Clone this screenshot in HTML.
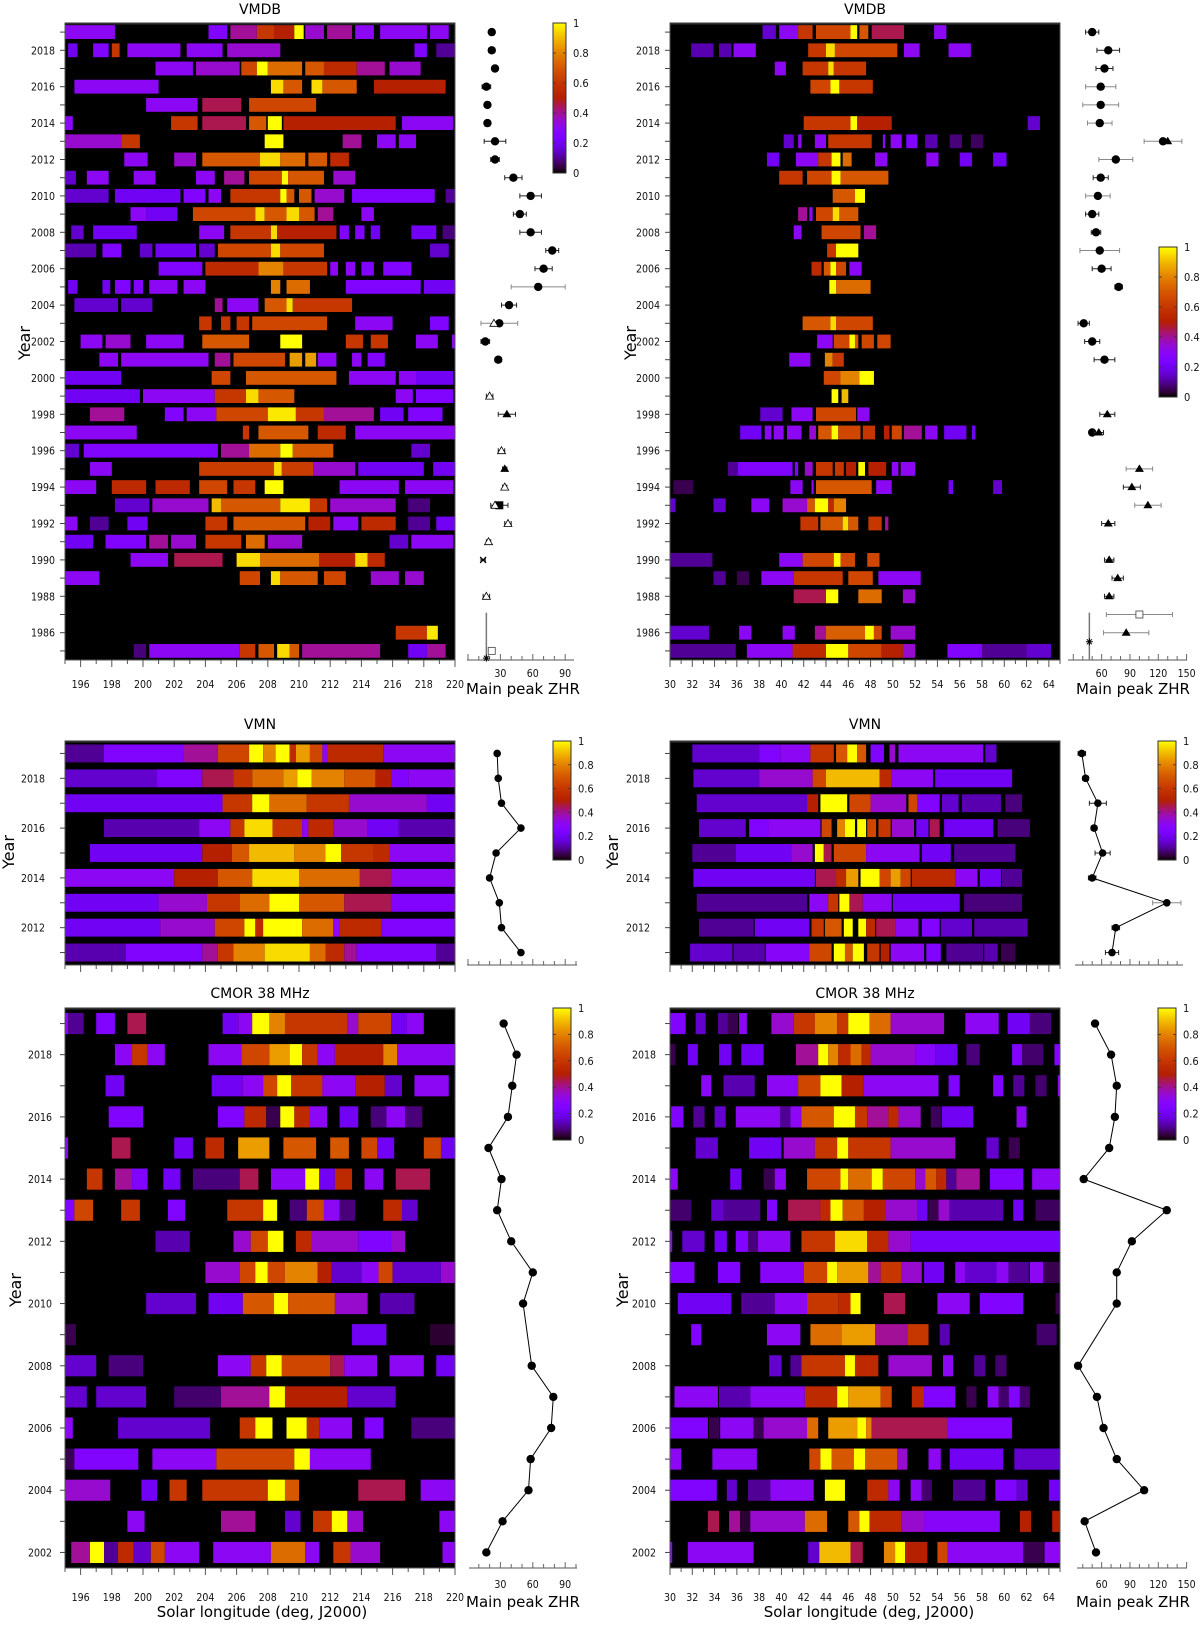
<!DOCTYPE html>
<html><head><meta charset="utf-8">
<style>
html,body{margin:0;padding:0;background:#fff;}
svg{display:block;font-family:"DejaVu Sans","Liberation Sans",sans-serif;}
.tk{font-size:10.5px;fill:#111;font-stretch:condensed;}
.ttl{font-size:14px;fill:#000;}
.lab{font-size:15px;fill:#000;}
</style></head>
<body>
<svg id="fig" width="1200" height="1627" viewBox="0 0 1200 1627" xmlns="http://www.w3.org/2000/svg"></svg>
<script>
// ===================== DATA =====================
// Top-left VMDB (solar longitude 195-220)
const tlYears = [2019,2018,2017,2016,2015,2014,2013,2012,2011,2010,2009,2008,2007,2006,2005,2004,2003,2002,2001,2000,1999,1998,1997,1996,1995,1994,1993,1992,1991,1990,1989,1988,1987,1986,1985];
const tlSegs = [
[195,198.2,.3, 204.2,205.4,.25, 205.6,207.3,.4, 207.3,208.4,.6, 208.4,209.7,.5, 209.7,210.3,1, 210.4,211.6,.35, 211.8,213.4,.4, 213.6,214.8,.3, 215.2,218.2,.3, 218.4,219.6,.3],
[195.2,195.8,.2, 196.8,197.8,.25, 198,198.5,.6, 199,202.4,.3, 202.8,205.1,.3, 205.4,208.8,.35, 217.4,218.2,.25, 218.8,220,.1],
[200.8,203.2,.3, 203.4,206.2,.35, 206.3,207.3,.65, 207.3,208,1, 208,210.2,.75, 210.4,211.6,.7, 211.6,213.7,.55, 213.7,215.5,.4, 215.8,217.8,.35],
[195.6,201,.3, 208.2,209,.95, 209,210.2,.7, 210.8,211.5,.95, 211.5,213.7,.7, 214.8,219.4,.5],
[200.2,203.5,.3, 203.8,206.3,.45, 206.8,211.1,.65],
[195,195.5,.3, 201.8,203.5,.6, 203.8,206.6,.45, 206.8,207.9,.7, 208,208.9,1, 209,216.2,.5, 216.6,219.9,.3],
[195,198.6,.35, 198.6,199.8,.6, 207.8,209,1, 212.8,214,.4, 215,216.2,.3, 216.4,217.5,.3],
[198.8,200.3,.3, 202,203.4,.35, 203.8,207.5,.7, 207.5,208.8,.95, 208.8,210.4,.75, 210.6,211.8,.7, 212,213.2,.55],
[195,195.7,.15, 196.4,197.8,.3, 199.4,200.8,.3, 203.4,204.6,.3, 205.2,206.5,.4, 206.8,208.9,.65, 208.9,209.3,1, 209.3,211.6,.7, 212.2,213.6,.35],
[195,197.8,.15, 198.2,202.4,.2, 202.6,204,.25, 204.2,205,.3, 205.6,208.8,.6, 208.8,209.2,1, 209.2,209.7,.7, 210,210.8,.7, 211,212.9,.35, 213.4,218.7,.25, 219.4,220,.1],
[199.2,200.2,.3, 200.2,202.2,.2, 203.2,207.2,.65, 207.2,207.8,.95, 207.8,209.2,.7, 209.2,210,.95, 210,211,.7, 211.2,212.2,.4, 214,214.8,.3],
[195.4,196.2,.15, 196.8,199.6,.2, 203.6,205.2,.3, 205.6,208.2,.6, 208.2,208.6,.95, 208.6,212.4,.5, 212.6,213.2,.25, 213.6,214.2,.25, 214.6,215.2,.2, 217.2,218.8,.2, 219.2,220,.08],
[195,197,.12, 197.4,198.6,.25, 199.8,200.6,.15, 200.8,203.4,.2, 203.6,204.6,.15, 204.8,208.2,.65, 208.2,208.8,.95, 208.8,211.6,.65, 218.4,219.6,.15],
[201,203.8,.25, 204,207.4,.55, 207.4,209,.8, 209,211.8,.6, 212,212.5,.3, 213,213.6,.3, 214,214.8,.25, 215.4,217.2,.25],
[195.2,195.8,.2, 197.4,197.9,.2, 198.2,199.2,.25, 199.4,200,.25, 200.4,202.2,.3, 202.6,204,.3, 208.2,208.8,.8, 209.2,210.7,.75, 213,217.8,.25, 218,220,.2],
[195.6,198.4,.15, 198.6,200.6,.15, 204.6,205.1,.4, 205.4,207.4,.3, 207.8,209.2,.7, 209.2,209.6,.95, 209.6,213.4,.6],
[203.6,204.4,.6, 205,205.6,.6, 206,206.8,.6, 207,211.8,.65, 213.6,216,.3, 218.4,219.6,.25],
[196,197.4,.3, 197.6,199.2,.35, 200.2,202.6,.3, 203.8,206.8,.7, 208.8,210.2,1, 213,214.1,.6, 214.6,215.7,.6, 217.5,218.9,.3, 219.8,220,.3],
[197.2,198.4,.3, 198.6,204.2,.3, 204.6,205.6,.4, 205.8,209.1,.65, 209.4,210.2,.85, 210.4,211.1,.85, 211.2,212.4,.3, 213.4,214,.3, 214.4,215.5,.25],
[195,198.6,.2, 204.4,205.6,.65, 206.6,212.4,.7, 213.2,216.2,.3, 216.4,217.5,.3, 217.5,219.9,.2],
[195,199.8,.2, 200,204.6,.3, 204.6,206.6,.6, 206.6,207.4,.95, 207.4,209.7,.7, 216.2,217.3,.3, 217.5,219.9,.25],
[196.6,198.8,.4, 201.4,202.6,.25, 202.8,204.7,.3, 204.7,208,.65, 208,209.8,.97, 209.8,211.6,.6, 211.6,214.8,.4, 215.2,216.7,.2, 217,219.2,.25],
[195,199.6,.3, 206.4,206.8,.6, 207.4,210.6,.7, 211.2,213,.55, 213.6,220,.3],
[195,195.9,.15, 196.2,204.8,.25, 205,206.8,.4, 206.8,208.8,.75, 208.8,209.6,1, 209.6,212.2,.7, 217.2,218.4,.15],
[196.6,198,.3, 203.6,208.4,.62, 208.4,208.9,.95, 208.9,210.9,.62, 210.9,213.6,.35, 213.8,218,.2, 218.6,220,.2],
[195,197,.3, 198,200.2,.55, 200.8,203,.55, 203.6,205.4,.65, 205.8,207.2,.6, 207.8,209,1, 212.6,216.4,.3, 216.8,219.9,.3],
[198.2,200.4,.15, 200.6,204.2,.35, 204.4,205,.9, 205,208.8,.7, 208.8,210.7,.97, 210.7,211.8,.6, 212,216.2,.35, 217,218.4,.08],
[195,195.8,.3, 196.6,197.8,.1, 199,200.3,.2, 204,205.4,.6, 205.8,210.4,.7, 210.6,212,.5, 212.2,213.8,.3, 214,216.2,.55, 217,218.4,.1, 218.8,220,.2],
[195,196.8,.2, 197.6,200.2,.25, 200.4,201.6,.4, 201.8,203.4,.35, 204,206.3,.6, 206.6,207.8,.75, 208,210.2,.35, 215.8,217,.15, 217.2,219.9,.3],
[199.2,201.6,.3, 202,205.1,.45, 206,207.5,.95, 207.5,211.3,.75, 211.3,213.6,.5, 213.6,214.4,.95, 214.4,215.5,.55],
[195,197.2,.3, 206.2,207.5,.65, 208.2,208.8,.95, 208.8,211.2,.7, 211.6,213,.65, 214.6,216.4,.35, 216.8,218,.35],
[],
[],
[216.2,218.2,.6, 218.2,218.9,.97],
[199.4,200.2,.08, 200.4,206.2,.3, 206.2,207.2,.6, 207.4,208.4,.7, 208.6,209.4,.95, 209.4,210,.7, 210.2,215.2,.4, 217,218.2,.2, 218.2,219.4,.4]
];
const tlZhrYears = [2019,2018,2017,2016,2015,2014,2013,2012,2011,2010,2009,2008,2007,2006,2005,2004,2003,2003,2002,2001,1999,1998,1996,1995,1994,1993,1993,1992,1991,1990,1988,1985,1984.6];
const tlZhr      = [22,22,25,17,18,18,25,25,42,58,48,58,78,70,65,38,29,24,16,28,20,36,31,34,34,29,25,37,19,14,17,22,17];
const tlZhrErr   = [2,3,2,4,2,1,10,4,8,10,6,10,6,8,25,7,17,0,4,3,3,8,3,2,2,8,0,3,2,2,3,0,0];
const tlZhrType  = ['c','c','c','c','c','c','c','c','c','c','c','c','c','c','c','c','c','o','c','c','o','t','o','t','o','s','o','o','o','x','o','q','*'];

// Top-right VMDB (solar longitude 30-65)
const trYears = tlYears;
const trSegs = [
[38.3,39.5,.15, 39.8,41.5,.3, 41.5,42.8,.6, 43.1,46.2,.65, 46.2,46.8,1, 47,47.8,.7, 48.1,51,.45, 53.7,54.8,.3],
[31.9,33.9,.12, 34.4,35.5,.12, 35.7,37.7,.3, 42.4,44,.6, 44,44.8,.95, 44.8,50.4,.65, 51,52.4,.3, 55,57,.3],
[39.4,40.4,.3, 41.9,44.2,.6, 44.2,44.7,.95, 44.7,47.6,.6],
[42.6,44.4,.65, 44.4,45.2,1, 45.2,48.2,.6],
[],
[42,46.2,.6, 46.2,46.8,1, 46.8,49.9,.5, 62.1,63.2,.15],
[40.2,41.1,.15, 41.5,41.8,.3, 43,44,.3, 44.2,48.1,.6, 49.1,49.3,.3, 49.8,50.8,.3, 51.2,52.2,.25, 52.9,54,.12, 55.1,56.2,.08, 57,58.1,.06],
[38.7,39.8,.2, 41.3,43.3,.3, 43.3,44.5,.6, 44.5,45.3,1, 45.5,46.3,.75, 48.4,49.5,.3, 53,54.1,.3, 56,57.1,.2, 59,60.2,.2],
[39.8,41.9,.6, 42.3,44.5,.65, 44.5,45.3,1, 45.3,49.6,.7],
[44.6,46.6,.7, 46.6,47.5,1],
[41.5,42.3,.4, 42.5,42.8,.3, 43.1,44.6,.65, 44.6,45.2,.95, 45.2,46.9,.7],
[41.1,41.8,.3, 43.6,47.1,.65, 47.4,48.5,.4],
[44.1,44.9,.6, 44.9,46.9,1],
[42.7,43.6,.55, 43.8,44.4,.7, 44.4,44.9,1, 44.9,45.8,.65, 46.1,47.2,.3],
[44.3,44.9,1, 44.9,48,.75],
[],
[41.9,44.4,.7, 44.4,44.9,.95, 44.9,48.2,.65],
[43.2,44.6,.3, 44.7,46.1,.65, 46.1,46.6,1, 46.6,46.9,.7, 47.2,48.3,.65, 48.6,49.8,.65],
[40.7,42.6,.3, 43.9,44.6,.8, 44.6,45.6,.6],
[43.8,45.3,.65, 45.3,47,.8, 47,48.3,1],
[44.5,45.1,1, 45.4,46,.9],
[38.1,40.1,.15, 40.9,42.8,.3, 43.1,46.7,.65, 46.8,47.9,.3],
[36.3,38.2,.2, 38.5,39.1,.3, 39.3,40.2,.3, 40.5,41.8,.3, 42.5,43.1,.35, 43.3,44.5,.7, 44.5,45.1,1, 45.1,47.1,.65, 47.3,48.4,.6, 49.2,49.7,.5, 49.9,50.8,.65, 51,52.6,.4, 52.9,54,.3, 54.6,56.6,.2, 57.1,57.4,.2],
[],
[35.2,36.1,.1, 36.1,41,.25, 41.2,41.5,.25, 42.1,42.8,.35, 43.1,44.6,.6, 44.8,45.6,.6, 45.8,46.7,.5, 46.9,47.5,1, 47.8,49.4,.5, 49.9,50.5,.3, 50.7,52,.3],
[30.3,32.1,.05, 40.8,41.9,.3, 42.7,42.9,.3, 43.1,48.1,.7, 48.5,49.9,.3, 55,55.4,.2, 59,59.8,.15],
[30,30.5,.15, 33.9,35,.15, 37.3,38.9,.3, 40.1,42.3,.35, 42.3,43,.7, 43,44.2,1, 44.2,44.7,.55, 44.7,45.8,.8],
[41.7,43.3,.6, 43.5,45.5,.7, 45.5,46,.95, 46,46.9,.7, 47.8,49,.6, 49.3,49.6,.4],
[],
[30,33.8,.1, 39.8,41.9,.3, 41.9,44.7,.65, 44.7,45.3,1, 45.3,46.6,.65, 47.7,48.8,.65],
[33.9,35,.1, 36,37.1,.05, 38.2,41.1,.3, 41.1,45.5,.6, 46,48.2,.65, 48.7,52.5,.3],
[41.1,44,.45, 44,45.1,1, 46.9,49,.75, 50.9,52,.35],
[],
[30,33.5,.15, 36.2,37.3,.3, 40.1,41.2,.3, 43,44,.4, 44,47.5,.72, 47.5,48.3,1, 48.3,49,.65, 49.8,52,.35],
[30,35.9,.1, 36.9,41,.3, 41,44,.55, 44,46,1, 46,49,.65, 49,50.9,.5, 50.9,52,.35, 54.9,58,.25, 58,62,.1, 62,64.2,.15]
];
const trZhrYears = [2019,2018,2017,2016,2015,2014,2013,2013,2012,2011,2010,2009,2008,2007,2006,2005,2003,2002,2001,1998,1997,1997,1995,1994,1993,1992,1990,1989,1988,1987,1986,1985.5];
const trZhr      = [50,67,63,59,59,58,125,130,75,59,56,50,54,58,60,78,41,50,63,66,50,57,100,92,109,67,68,77,68,100,86,47];
const trZhrErr   = [7,12,9,16,19,13,20,0,18,8,13,7,5,21,10,4,6,8,11,8,3,5,14,9,14,7,5,6,5,35,24,0];
const trZhrType  = ['c','c','c','c','c','c','c','t','c','c','c','c','c','c','c','c','c','c','c','t','c','t','t','t','t','t','t','t','t','q','t','*'];

// Middle-left VMN (195-220)
const mlYears = [2019,2018,2017,2016,2015,2014,2013,2012,2011];
const mlSegs = [
[195,197.5,.1, 197.5,202.6,.25, 202.6,204.8,.4, 204.8,206.8,.65, 206.8,207.7,1, 207.7,208.5,.8, 208.5,209.4,1, 209.4,209.8,.55, 209.8,210.7,.85, 210.7,211.5,.65, 211.5,211.8,.3, 211.8,215.4,.55, 215.4,220,.3],
[195,200.9,.15, 200.9,203.8,.25, 203.8,205.8,.45, 205.8,207,.6, 207,209,.75, 209,209.9,.85, 209.9,210.8,1, 210.8,212.9,.8, 212.9,214.9,.7, 214.9,215.9,.5, 215.9,217,.25, 217,220,.3],
[195,205.1,.2, 205.1,207,.6, 207,208.1,1, 208.1,210.5,.75, 210.5,213.2,.6, 213.2,218.2,.35, 218.2,220,.2],
[197.5,203.6,.12, 203.6,205.6,.3, 205.6,206.5,.6, 206.5,208.3,.95, 208.3,210.2,.6, 210.2,210.6,.3, 210.6,212.2,.55, 212.2,214.4,.35, 214.4,216.4,.2, 216.4,220,.12],
[196.6,203.8,.2, 203.8,205.7,.5, 205.7,206.8,.7, 206.8,209.7,.9, 209.7,211.7,.8, 211.7,212.7,1, 212.7,214.8,.6, 214.8,215.8,.55, 215.8,220,.3],
[195,202,.3, 202,204.8,.5, 204.8,207,.7, 207,210,.95, 210,213.9,.75, 213.9,215.9,.45, 215.9,220,.3],
[195,201,.2, 201,204.1,.35, 204.1,206.2,.6, 206.2,208.1,.75, 208.1,210,1, 210,212.9,.7, 212.9,215.9,.45, 215.9,220,.25],
[195,201.1,.2, 201.1,204.6,.35, 204.6,206.5,.65, 206.5,207.2,1, 207.2,207.7,.55, 207.7,210.2,1, 210.2,212.2,.75, 212.2,212.6,.3, 212.6,215.3,.55, 215.3,220,.25],
[195,198.9,.12, 198.9,203.8,.25, 203.8,204.8,.4, 204.8,205.8,.6, 205.8,207.8,.8, 207.8,210.7,.95, 210.7,211.7,.75, 211.7,212.9,.55, 212.9,213.7,.4, 213.7,218.8,.25, 218.8,220,.1]
];
const mlZhr = [27,28,31,49,26,20,29,31,49];

// Middle-right VMN (30-65)
const mrYears = mlYears;
const mrSegs = [
[32,38,.15, 38,39.9,.25, 39.9,42.6,.3, 42.6,44.7,.6, 44.9,45.9,.7, 45.9,46.8,1, 46.8,47.6,.7, 48,49.2,.25, 49.7,50.2,.35, 50.5,58.1,.3, 58.3,59.3,.15],
[32.1,38,.15, 38,42.8,.35, 42.8,44,.65, 44,48.8,.9, 48.8,49.9,.55, 49.9,53.6,.3, 53.8,60.7,.2],
[32.4,42.3,.15, 42.3,43.3,.5, 43.5,45.9,1, 46.1,48,.65, 48,51.2,.35, 51.4,52.2,.65, 52.2,54.2,.25, 54.4,55.9,.15, 56.2,59.7,.12, 60.1,61.6,.08],
[32.6,36.8,.15, 37.1,38.8,.25, 38.8,43.5,.3, 43.6,44.5,.65, 45,45.7,.8, 45.7,46.6,1, 46.8,47.6,1, 47.7,48.5,.65, 48.7,49.8,.6, 49.9,51.9,.35, 52.1,53.2,.2, 53.3,54.2,.45, 54.6,59,.2, 59.4,62.3,.08],
[32,35.9,.1, 35.9,40.9,.2, 40.9,42.8,.35, 43,43.8,1, 43.8,44.5,.45, 44.7,47.6,.65, 47.6,52.4,.3, 52.6,55.2,.2, 55.5,61,.1],
[32.1,43,.2, 43.1,44.9,.45, 44.9,45.8,.55, 45.8,46.9,.85, 47.1,48.8,1, 48.8,49.8,.65, 49.8,50.7,.85, 50.7,51.6,.65, 51.7,55.6,.55, 55.6,57.6,.3, 57.8,59.7,.2, 59.8,61.6,.1],
[32.4,42.3,.1, 42.5,44.2,.3, 44.2,45.1,.6, 45.2,46.1,1, 46.1,47.3,.45, 47.3,49.9,.3, 50,56,.2, 56.4,61.6,.08],
[32.6,37.5,.1, 37.6,42.5,.2, 42.7,43.8,.6, 43.9,45.4,.7, 45.6,46.4,1, 46.9,47.6,1, 47.6,48.4,.55, 48.5,50.2,.45, 50.2,52.3,.3, 52.6,54.2,.25, 54.3,57.1,.15, 57.3,62.1,.12],
[31.8,35.6,.15, 35.7,38.5,.12, 38.6,42.5,.28, 42.5,44.5,.65, 44.7,45.7,1, 45.7,46.4,.7, 46.4,47.4,1, 47.7,48.8,.6, 48.9,49.7,.5, 49.8,52.8,.3, 53,54.3,.25, 54.8,58.1,.1, 58.2,59.4,.12, 59.7,61,.05]
];
const mrZhr = [39,43,56,52,61,50,129,75,71];
const mrZhrErr = [4,3,9,3,8,4,15,4,7];

// Bottom-left CMOR 38 MHz (195-220)
const blYears = [2019,2018,2017,2016,2015,2014,2013,2012,2011,2010,2009,2008,2007,2006,2005,2004,2003,2002];
const blSegs = [
[195,195.2,.3, 195.2,196.2,.1, 197,198.2,.25, 199,200.2,.45, 205.1,206.1,.2, 206.1,207,.3, 207,208.1,1, 208.1,209.1,.8, 209.1,213.1,.6, 213.1,213.8,.35, 213.8,215.9,.65, 215.9,216.9,.2, 216.9,218,.3],
[198.2,199.3,.3, 199.3,200.3,.6, 200.3,201.4,.3, 204.2,206.3,.3, 206.3,208.1,.65, 208.1,209.4,.85, 209.4,210.2,1, 210.2,211.2,.6, 211.2,212.3,.3, 212.3,215.4,.5, 215.4,216.3,.8, 216.3,220,.3],
[197.6,198.8,.2, 204.4,206.4,.2, 206.4,207.7,.3, 207.7,208.6,.65, 208.6,209.5,1, 209.5,211.5,.6, 211.5,213.6,.3, 213.6,215.5,.5, 215.5,216.6,.15, 217.4,219.6,.3],
[197.8,200,.25, 204.8,206.5,.25, 206.5,207.9,.55, 207.9,208.8,.05, 208.8,209.7,1, 209.7,210.7,.55, 210.7,211.8,.3, 212.6,213.8,.2, 214.6,215.6,.08, 215.6,216.8,.3, 216.8,217.9,.08],
[195,195.2,.3, 198,199.2,.45, 202,203.2,.2, 204,205.2,.55, 206.1,208.1,.85, 209,211.1,.7, 212,213.2,.7, 214,215,.65, 215,216.1,.2, 218,219.1,.65, 219.1,220,.2],
[196.4,197.4,.6, 198.2,199.3,.4, 199.3,200.3,.25, 201.3,202.4,.2, 203.2,206.2,.08, 206.2,207.4,.45, 208.2,210.4,.3, 210.4,211.3,1, 211.3,212.3,.2, 212.3,213.4,.55, 214.2,215.4,.3, 216.2,218.4,.45],
[195,195.6,.25, 195.6,196.8,.65, 198.6,199.8,.6, 201.6,202.7,.25, 205.4,207.7,.6, 207.7,208.6,1, 209.4,210.5,.08, 210.5,211.6,.65, 211.6,212.6,.3, 212.6,213.6,.08, 215.4,216.6,.55, 216.6,217.6,.15],
[200.8,203,.12, 205.8,206.9,.35, 206.9,208,.65, 208,209,1, 209.8,210.8,.55, 210.8,213.8,.35, 213.8,215.9,.25, 215.9,216.8,.35],
[204,206.2,.35, 206.2,207.2,.65, 207.2,208,1, 208,209.1,.65, 209.1,211.2,.8, 211.2,212.1,.5, 212.1,214,.15, 214,215.1,.3, 215.1,216,.65, 216,219.1,.15, 219.1,220,.35],
[200.2,203.4,.15, 204.2,206.4,.2, 206.4,208.4,.7, 208.4,209.3,1, 209.3,212.3,.7, 212.3,214.4,.35, 215.2,217.4,.12],
[195,195.7,.05, 213.4,215.6,.2, 218.4,220,.03],
[195,197,.15, 197.8,200,.08, 204.8,206.9,.3, 206.9,207.9,.6, 207.9,208.9,1, 208.9,212,.65, 212,212.9,.45, 212.9,215,.3, 215.8,218,.3, 218.8,220,.2],
[195,196.4,.15, 197,200.2,.15, 202,205,.07, 205,208.1,.4, 208.1,209.1,1, 209.1,213.1,.5, 213.1,216.2,.15],
[195,195.5,.3, 198.4,204.3,.15, 206.2,207.2,.6, 207.2,208.3,1, 209.2,210.5,1, 210.5,211.3,.55, 211.3,213.4,.3, 214.2,215.4,.25, 217.2,220,.08],
[195,195.6,.05, 195.6,199.7,.25, 200.6,204.7,.3, 204.7,209.7,.65, 209.7,210.7,1, 210.7,214.6,.3],
[195,197.9,.35, 199.9,200.9,.2, 201.7,202.8,.6, 203.8,208,.6, 208,209.1,1, 209.1,210,.7, 213.8,216.8,.45, 217.8,220,.3],
[199,200.1,.3, 205,207.2,.4, 209.1,210.1,.15, 210.9,212.1,.6, 212.1,213.1,1, 213.1,214.1,.35, 219,220,.3],
[195.4,196.6,.4, 196.6,197.5,1, 197.5,198.4,.1, 198.4,199.4,.55, 199.4,200.5,.15, 200.5,201.4,.65, 201.4,203.6,.3, 204.5,208.2,.3, 208.2,210.4,.75, 210.4,211.3,.3, 212.2,213.3,.6, 213.3,215.2,.35, 219.2,220,.3]
];
const blZhrYears = [2019,2018,2017,2016,2015,2014,2013,2012,2011,2010,2008,2007,2006,2005,2004,2003,2002];
const blZhr      = [33,45,41,37,19,31,27,40,60,51,59,79,77,58,56,32,17];

// Bottom-right CMOR 38 MHz (30-65)
const brYears = blYears;
const brSegs = [
[30,31.4,.25, 32.3,33.2,.15, 34.3,35.2,.1, 35.2,36.1,.05, 36.2,36.9,.3, 39.1,41.1,.35, 41.1,43,.6, 43,45,.8, 45,46,.6, 46,47.9,1, 47.9,49.8,.75, 49.8,54.6,.35, 56.5,59.5,.3, 60.3,62.3,.2, 62.3,64.2,.08],
[30,30.5,.05, 31.6,32.5,.2, 34.4,35.5,.2, 36.4,38.4,.2, 41.3,43.3,.4, 43.3,44.2,1, 44.2,45.1,.8, 45.1,46.2,.55, 46.2,47.2,.75, 47.2,48,.55, 48,52,.35, 52,53.8,.28, 53.8,55.8,.2, 56.6,57.8,.08, 60.7,61.6,.25, 61.6,63.5,.07, 64.5,65,.25],
[32.8,33.7,.3, 34.8,37.6,.12, 38.7,41.5,.3, 41.5,43.5,.65, 43.5,45.4,1, 45.4,47.4,.5, 47.4,54.1,.3, 55,56,.25, 59,59.9,.25, 60.8,61.8,.1, 62.8,63.8,.07, 64.8,65,.3],
[30.1,31.2,.25, 32.1,33.1,.1, 34,35,.15, 35.9,39.9,.3, 39.9,40.8,.1, 40.8,41.8,.3, 41.8,44.7,.7, 44.7,46.6,1, 46.6,47.7,.6, 47.7,49.6,.4, 49.6,50.5,.55, 50.5,52.5,.35, 53.4,54.3,.06, 54.4,57.2,.2, 61.1,62,.3],
[32.3,34.3,.15, 37.1,40,.2, 40.2,43,.35, 43,45,.6, 45,46,1, 46,49.8,.6, 49.8,55.6,.35, 58.4,59.5,.15, 60.4,61.4,.05],
[30,30.7,.3, 35.4,36.4,.2, 38.4,39.4,.05, 39.4,40.4,.3, 42.3,45.3,.65, 45.3,46,1, 46,48.1,.75, 48.1,49.1,1, 49.1,52,.65, 52,52.9,.35, 52.9,53.9,.7, 53.9,54.8,.55, 54.8,55.7,.1, 55.7,57.8,.4, 58.7,61.7,.25, 62.5,65,.3],
[30,31.9,.07, 33.7,34.8,.15, 34.8,38.1,.1, 38.7,39.6,.25, 40.6,43.5,.45, 43.5,44.4,.55, 44.4,45.5,1, 45.5,47.4,.7, 47.4,49.3,.5, 49.3,52.2,.35, 52.2,53.1,.2, 53.2,54.1,.05, 54.1,55.1,.35, 55.1,59.9,.12, 60.8,61.7,.2, 62.8,65,.06],
[30,30.2,.3, 31.1,33.1,.15, 34,35.1,.2, 35.9,37,.25, 37,37.9,.08, 37.9,40.8,.3, 41.8,44.8,.6, 44.8,47.7,.95, 47.7,49.6,.55, 49.6,51.6,.35, 51.6,65,.22],
[30,32.2,.25, 34.3,36.3,.25, 38.1,42,.28, 42,44.1,.65, 44.1,45,1, 45,47.8,.85, 47.8,48.9,.4, 48.9,50.8,.6, 50.8,52.6,.35, 52.8,54.6,.2, 55.6,56.5,.3, 56.5,59.3,.15, 59.3,60.4,.3, 60.4,62.2,.1, 62.3,63.5,.3, 63.5,65,.05],
[30.7,35.5,.2, 36.4,39.4,.1, 39.4,42.3,.3, 42.3,45.1,.6, 45.1,46.2,.55, 46.2,47.1,1, 49.2,51.1,.45, 54,56.9,.3, 57.8,61.7,.25, 64.6,65,.05],
[31.9,32.8,.25, 38.7,41.7,.3, 42.6,45.4,.75, 45.4,48.4,.85, 48.4,51.3,.4, 51.3,53.2,.6, 54.2,55.1,.12, 62.9,64.7,.07],
[38.9,40,.15, 40.8,41.8,.1, 41.8,45.7,.6, 45.7,46.6,1, 46.6,48.7,.55, 49.6,53.5,.35, 54.5,55.4,.3, 57.3,58.3,.1, 59.2,60.2,.07],
[30.4,34.3,.3, 34.4,37.2,.12, 37.2,42.1,.3, 42.1,45,.55, 45,46,1, 46,48.9,.85, 48.9,49.9,.65, 51.7,52.8,.55, 52.8,55.6,.25, 56.6,57.5,.05, 58.5,59.5,.3, 59.5,60.4,.07, 60.4,61.4,.25, 61.4,62.3,.07],
[30,33.4,.25, 33.5,34.4,.05, 34.5,37.5,.3, 37.5,38.4,.05, 38.4,42.3,.35, 42.3,43.3,.75, 44.2,46.8,.85, 46.8,47.6,1, 47.6,48.1,.8, 48.1,54.9,.45, 54.9,60.7,.25],
[30,31,.3, 33.8,37.8,.3, 42.5,43.5,.65, 43.5,44.5,1, 44.5,46.5,.7, 46.5,47.5,1, 47.5,50.4,.7, 50.4,51.3,.35, 53.2,54.3,.3, 55.1,59.9,.2, 60.9,65,.15],
[30,34.2,.25, 35.1,36,.15, 37,39,.1, 39,42.9,.3, 43.9,45.7,1, 47.7,49.6,.55, 49.6,50.6,.3, 51.6,52.6,.3, 52.6,53.5,.07, 55.4,58.3,.1, 59.2,61.1,.25, 61.1,62.1,.15, 64,65,.2],
[33.4,34.4,.45, 35.3,36.3,.4, 36.3,37.2,.03, 37.2,42.1,.35, 42.1,44.1,.75, 46,47,.7, 47,47.9,1, 47.9,50.8,.55, 50.8,52.8,.35, 52.8,59.6,.28, 61.4,62.4,.5, 64.3,65,.5],
[30,30.2,.3, 31.6,37.5,.3, 42.4,43.4,.15, 43.4,46.2,.9, 46.2,47.3,.45, 49.2,50.2,.8, 50.2,51.1,1, 51.1,53.1,.5, 54,54.9,.65, 54.9,61.7,.3, 61.7,63.5,.05, 63.6,65,.3]
];
const brZhrYears = blZhrYears;
const brZhr      = [53,70,76,74,68,41,129,92,76,76,35,55,62,76,105,42,54];

// Colorbar ticks
const cbTicks = [0,0.2,0.4,0.6,0.8,1];
const cbTickLabels = ['0','0.2','0.4','0.6','0.8','1'];

// ===================== RENDER =====================
const NS = 'http://www.w3.org/2000/svg';
const svg = document.getElementById('fig');
function mk(tag, attrs, parent) {
  const e = document.createElementNS(NS, tag);
  for (const k in attrs) e.setAttribute(k, attrs[k]);
  (parent || svg).appendChild(e);
  return e;
}
function cmap(v) {
  v = Math.max(0, Math.min(1, v));
  const r = Math.sqrt(v), g = v * v * v, b = Math.max(0, Math.sin(2 * Math.PI * v));
  return 'rgb(' + Math.round(r * 255) + ',' + Math.round(g * 255) + ',' + Math.round(b * 255) + ')';
}
// gradient
const defs = mk('defs', {});
const grad = mk('linearGradient', {id: 'cbgrad', x1: 0, y1: 1, x2: 0, y2: 0}, defs);
for (let i = 0; i <= 40; i++) {
  mk('stop', {offset: (i / 40), 'stop-color': cmap(i / 40)}, grad);
}

function text(x, y, s, cls, anchor, parent) {
  const t = mk('text', {x: x, y: y, class: cls, 'text-anchor': anchor || 'middle'}, parent);
  t.textContent = s;
  return t;
}

function drawHeat(L, years, segs, name) {
  const g = mk('g', {});
  
  
  const xs = lon => L.hx0 + (lon - L.lon0) / (L.lon1 - L.lon0) * (L.hx1 - L.hx0);
  const ys = yr => L.y0 + (L.yr0 - yr) / (L.yr0 - L.yr1) * (L.y1 - L.y0);
  const rowH = (L.y1 - L.y0) / (L.yr0 - L.yr1);
  const bg = mk('rect', {x: L.hx0, y: L.y0, width: L.hx1 - L.hx0, height: L.y1 - L.y0, fill: '#000'}, g);
  
  
  for (let r = 0; r < years.length; r++) {
    const row = segs[r];
    const yc = ys(years[r]);
    for (let k = 0; k + 2 < row.length; k += 3) {
      const x1 = xs(row[k]), x2 = xs(row[k + 1]);
      const c = mk('rect', {x: x1.toFixed(2), y: (yc - rowH * L.bh).toFixed(2), width: Math.max(0.5, x2 - x1).toFixed(2), height: (2 * rowH * L.bh).toFixed(2), fill: cmap(row[k + 2])}, g);
      
      
    }
  }
  // frame
  mk('rect', {x: L.hx0, y: L.y0, width: L.hx1 - L.hx0, height: L.y1 - L.y0, fill: 'none', stroke: '#555', 'stroke-width': 1}, g);
  mk('line', {x1: L.hx0, y1: L.y0 + 0.5, x2: L.hx1, y2: L.y0 + 0.5, stroke: '#333', 'stroke-width': 2}, g);
  // y ticks
  const yax = mk('g', {}, g);
  
  
  for (let yr = Math.ceil(L.yr1); yr <= L.yr0; yr++) {
    const y = ys(yr);
    mk('line', {x1: L.hx0 - 5, y1: y, x2: L.hx0, y2: y, stroke: '#444', 'stroke-width': 1}, yax);
    if (yr % 2 === 0) {
      const t = text(L.hx0 - L.ylo, y + 4, String(yr), 'tk', 'end', yax);
      
      
    }
  }
  // x ticks
  const xax = mk('g', {}, g);
  
  
  for (let lon = Math.ceil(L.lon0); lon <= L.lon1; lon++) {
    const x = xs(lon);
    const major = lon % 2 === 0;
    mk('line', {x1: x, y1: L.y1, x2: x, y2: L.y1 + (major ? 7 : 4), stroke: '#555', 'stroke-width': 1}, xax);
    if (major && L.xlabels && lon < L.lon1 + 0.01) {
      if (lon === 30 || lon > L.lon0 || true) {
        const t = text(x, L.xly, String(lon), 'tk', 'middle', xax);
        
        
      }
    }
  }
  // y title
  const yt = text(L.ytx, L.yty, 'Year', 'lab', 'middle', g);
  yt.setAttribute('transform', 'rotate(-90 ' + L.ytx + ' ' + L.yty + ')');
  yt.setAttribute('style', 'font-size:16px');
  
  
  // title
  const tt = text((L.hx0 + L.hx1) / 2, L.ty, L.title, 'ttl', 'middle', g);
  
  
  return {xs, ys};
}

function drawZhr(L, years, zhr, err, types, connect, name) {
  const g = mk('g', {});
  
  
  const ys = yr => L.y0 + (L.yr0 - yr) / (L.yr0 - L.yr1) * (L.y1 - L.y0);
  const zs = z => L.z0 + z * L.zs;
  const ax = mk('line', {x1: L.zx0, y1: L.y1, x2: L.zx1, y2: L.y1, stroke: '#777', 'stroke-width': 1.2}, g);
  
  
  for (let z = 0; z <= 200; z += 10) {
    const x = zs(z);
    if (x < L.zx0 - 0.5 || x > L.zx1 + 0.5) continue;
    const major = z % 30 === 0;
    mk('line', {x1: x, y1: L.y1, x2: x, y2: L.y1 - (major ? 6 : 4), stroke: '#666', 'stroke-width': 1}, g);
    if (major && L.zlabels && L.zlabels.indexOf(z) >= 0) {
      const t = text(x, L.zly, String(z), 'tk', 'middle', g);
      
      
    }
  }
  if (L.zlabels) {
    const t = text(L.mlx, L.mly, 'Main peak ZHR', 'lab', 'middle', g);
    
    
  }
  if (connect) {
    let d = '';
    for (let i = 0; i < years.length; i++) d += (i ? 'L' : 'M') + zs(zhr[i]).toFixed(1) + ' ' + ys(years[i]).toFixed(1);
    const p = mk('path', {d: d, fill: 'none', stroke: '#000', 'stroke-width': 1}, g);
    
    
  }
  for (let i = 0; i < years.length; i++) {
    const x = zs(zhr[i]), y = ys(years[i]);
    const ty = types ? types[i] : 'c';
    const e = err ? err[i] : 0;
    if (e > 0) {
      const col = e > 12 ? '#888' : '#222';
      mk('line', {x1: zs(zhr[i] - e), y1: y, x2: zs(zhr[i] + e), y2: y, stroke: col, 'stroke-width': 1}, g);
      mk('line', {x1: zs(zhr[i] - e), y1: y - 2.5, x2: zs(zhr[i] - e), y2: y + 2.5, stroke: col, 'stroke-width': 1}, g);
      mk('line', {x1: zs(zhr[i] + e), y1: y - 2.5, x2: zs(zhr[i] + e), y2: y + 2.5, stroke: col, 'stroke-width': 1}, g);
    }
    let m;
    if (ty === 'c') m = mk('circle', {cx: x, cy: y, r: L.r || 4.2, fill: '#000'}, g);
    else if (ty === 't') m = mk('path', {d: 'M' + x + ' ' + (y - 4.5) + 'L' + (x + 4.5) + ' ' + (y + 3) + 'L' + (x - 4.5) + ' ' + (y + 3) + 'Z', fill: '#000'}, g);
    else if (ty === 'o') m = mk('path', {d: 'M' + x + ' ' + (y - 4) + 'L' + (x + 4) + ' ' + (y + 3) + 'L' + (x - 4) + ' ' + (y + 3) + 'Z', fill: '#fff', stroke: '#000', 'stroke-width': 0.8}, g);
    else if (ty === 's') m = mk('rect', {x: x - 4, y: y - 4, width: 8, height: 8, fill: '#000'}, g);
    else if (ty === 'q') m = mk('rect', {x: x - 3.5, y: y - 3.5, width: 7, height: 7, fill: '#fff', stroke: '#555', 'stroke-width': 0.9}, g);
    else if (ty === 'x') m = mk('path', {d: 'M' + (x - 3) + ' ' + (y - 3) + 'L' + (x + 3) + ' ' + (y + 3) + 'M' + (x + 3) + ' ' + (y - 3) + 'L' + (x - 3) + ' ' + (y + 3), stroke: '#000', 'stroke-width': 1.2}, g);
    else {
      mk('line', {x1: x, y1: ys(1987.1), x2: x, y2: L.y1, stroke: '#777', 'stroke-width': 1.5}, g);
      m = mk('path', {d: 'M' + (x - 3.5) + ' ' + y + 'L' + (x + 3.5) + ' ' + y + 'M' + x + ' ' + (y - 3.5) + 'L' + x + ' ' + (y + 3.5) + 'M' + (x - 2.5) + ' ' + (y - 2.5) + 'L' + (x + 2.5) + ' ' + (y + 2.5) + 'M' + (x + 2.5) + ' ' + (y - 2.5) + 'L' + (x - 2.5) + ' ' + (y + 2.5), stroke: '#000', 'stroke-width': 1}, g);
    }
    
    
  }
}

function drawCbar(L, name) {
  const g = mk('g', {});
  
  
  mk('rect', {x: L.cbx, y: L.cby0, width: L.cbw, height: L.cby1 - L.cby0, fill: 'url(#cbgrad)', stroke: '#333', 'stroke-width': 1}, g);
  for (let i = 0; i < cbTicks.length; i++) {
    const y = L.cby1 - cbTicks[i] * (L.cby1 - L.cby0);
    mk('line', {x1: L.cbx, y1: y, x2: L.cbx + 3, y2: y, stroke: '#333', 'stroke-width': 0.8}, g);
    mk('line', {x1: L.cbx + L.cbw - 3, y1: y, x2: L.cbx + L.cbw, y2: y, stroke: '#333', 'stroke-width': 0.8}, g);
    const t = text(L.cbx + L.cbw + 7, y + 4, cbTickLabels[i], 'tk', 'start', g);
    t.setAttribute('style', 'font-size:11px');
    
    
  }
}

// layouts
const TL = {hx0: 65, hx1: 455, lon0: 195, lon1: 220, y0: 23, y1: 660, yr0: 2019.5, yr1: 1984.5, bh: 0.38, ylo: 10, xlabels: true, xly: 688, ytx: 30, yty: 343, title: 'VMDB', ty: 14,
  zx0: 467, zx1: 574, z0: 468, zs: 1.08, zlabels: [30, 60, 90], zly: 677, mlx: 523, mly: 694, cbx: 553, cbw: 13, cby0: 23, cby1: 173};
const TR = {hx0: 670, hx1: 1060, lon0: 30, lon1: 65, y0: 23, y1: 660, yr0: 2019.5, yr1: 1984.5, bh: 0.38, ylo: 10, xlabels: true, xly: 688, ytx: 636, yty: 343, title: 'VMDB', ty: 14,
  zx0: 1068, zx1: 1187, z0: 1045, zs: 0.944, zlabels: [60, 90, 120, 150], zly: 677, mlx: 1133, mly: 694, cbx: 1159, cbw: 18, cby0: 247, cby1: 397};
const ML = {hx0: 65, hx1: 455, lon0: 195, lon1: 220, y0: 741, y1: 965, yr0: 2019.5, yr1: 2010.5, bh: 0.36, ylo: 20, xlabels: false, ytx: 14, yty: 852, title: 'VMN', ty: 729,
  zx0: 467, zx1: 577, z0: 468, zs: 1.08, zlabels: null, cbx: 553, cbw: 18, cby0: 741, cby1: 860, r: 3.8};
const MR = {hx0: 670, hx1: 1060, lon0: 30, lon1: 65, y0: 741, y1: 965, yr0: 2019.5, yr1: 2010.5, bh: 0.36, ylo: 20, xlabels: false, ytx: 618, yty: 852, title: 'VMN', ty: 729,
  zx0: 1075, zx1: 1183, z0: 1045, zs: 0.944, zlabels: null, cbx: 1158, cbw: 18, cby0: 741, cby1: 860, r: 3.8};
const BL = {hx0: 65, hx1: 455, lon0: 195, lon1: 220, y0: 1008, y1: 1568, yr0: 2019.5, yr1: 2001.5, bh: 0.34, ylo: 13, xlabels: true, xly: 1601, ytx: 21, yty: 1290, title: 'CMOR 38 MHz', ty: 998,
  zx0: 469, zx1: 577, z0: 468, zs: 1.08, zlabels: [30, 60, 90], zly: 1588, mlx: 523, mly: 1607, cbx: 553, cbw: 18, cby0: 1008, cby1: 1140};
const BR = {hx0: 670, hx1: 1060, lon0: 30, lon1: 65, y0: 1008, y1: 1568, yr0: 2019.5, yr1: 2001.5, bh: 0.34, ylo: 14, xlabels: true, xly: 1601, ytx: 628, yty: 1290, title: 'CMOR 38 MHz', ty: 998,
  zx0: 1077, zx1: 1187, z0: 1045, zs: 0.944, zlabels: [60, 90, 120, 150], zly: 1588, mlx: 1133, mly: 1607, cbx: 1158, cbw: 18, cby0: 1008, cby1: 1140};

drawHeat(TL, tlYears, tlSegs, 'vmdb-left');
drawHeat(TR, trYears, trSegs, 'vmdb-right');
drawHeat(ML, mlYears, mlSegs, 'vmn-left');
drawHeat(MR, mrYears, mrSegs, 'vmn-right');
drawHeat(BL, blYears, blSegs, 'cmor-left');
drawHeat(BR, brYears, brSegs, 'cmor-right');

drawZhr(TL, tlZhrYears, tlZhr, tlZhrErr, tlZhrType, false, 'vmdb-left');
drawZhr(TR, trZhrYears, trZhr, trZhrErr, trZhrType, false, 'vmdb-right');
drawZhr(ML, mlYears, mlZhr, null, null, true, 'vmn-left');
drawZhr(MR, mrYears, mrZhr, mrZhrErr, null, true, 'vmn-right');
drawZhr(BL, blZhrYears, blZhr, null, null, true, 'cmor-left');
drawZhr(BR, brZhrYears, brZhr, null, null, true, 'cmor-right');

drawCbar(TL, 'vmdb-left');
drawCbar(TR, 'vmdb-right');
drawCbar(ML, 'vmn-left');
drawCbar(MR, 'vmn-right');
drawCbar(BL, 'cmor-left');
drawCbar(BR, 'cmor-right');

const xl1 = text(262, 1617, 'Solar longitude (deg, J2000)', 'lab', 'middle');


const xl2 = text(869, 1617, 'Solar longitude (deg, J2000)', 'lab', 'middle');


</script>
</body></html>
